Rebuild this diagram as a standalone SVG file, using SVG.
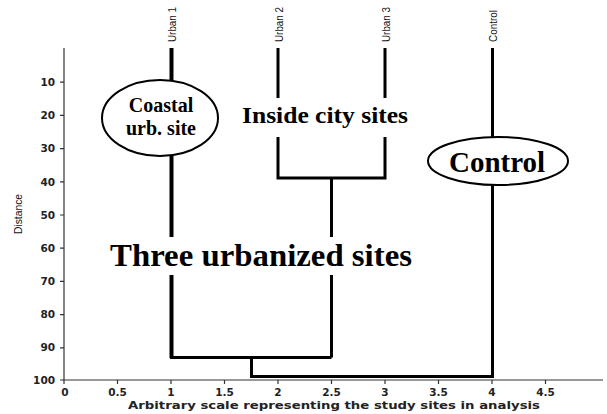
<svg xmlns="http://www.w3.org/2000/svg" width="607" height="414" viewBox="0 0 607 414">
<style>
.ax{stroke:#333;stroke-width:1.2;fill:none}
.tk{font-family:"DejaVu Sans",Verdana,sans-serif;font-weight:bold;font-size:10.5px;fill:#222}
.lab{font-family:"Liberation Sans",Arial,sans-serif;font-size:10.5px;fill:#111}
.br{stroke:#000;stroke-width:3;fill:none;stroke-linecap:butt}
.big{font-family:"Liberation Serif","Times New Roman",serif;font-weight:bold;fill:#000}
.ell{fill:#fff;stroke:#000;stroke-width:2}
</style>
<rect width="607" height="414" fill="#fff"/>
<g id="axes">
<path class="ax" d="M64,48 V380 H603"/>
<path class="ax" d="M60,82.2H64M60,115.4H64M60,148.6H64M60,181.8H64M60,215H64M60,248.2H64M60,281.4H64M60,314.6H64M60,347.8H64M60,380H64"/>
<path class="ax" d="M64,380v4M117.5,380v4M171,380v4M224.5,380v4M278,380v4M331.5,380v4M385,380v4M438.5,380v4M492,380v4M545.5,380v4"/>
<g class="tk" text-anchor="end">
<text x="55" y="86">10</text><text x="55" y="119">20</text><text x="55" y="152">30</text><text x="55" y="186">40</text><text x="55" y="219">50</text><text x="55" y="252">60</text><text x="55" y="285">70</text><text x="55" y="318">80</text><text x="55" y="351">90</text><text x="55" y="384">100</text>
</g>
<g class="tk" text-anchor="middle">
<text x="65" y="396">0</text><text x="117.5" y="396">0.5</text><text x="171" y="396">1</text><text x="224.5" y="396">1.5</text><text x="278" y="396">2</text><text x="331.5" y="396">2.5</text><text x="385" y="396">3</text><text x="438.5" y="396">3.5</text><text x="492" y="396">4</text><text x="545.5" y="396">4.5</text>
</g>
<text class="tk" x="128" y="409" textLength="412" lengthAdjust="spacingAndGlyphs">Arbitrary scale representing the study sites in analysis</text>
<text class="lab" transform="translate(22,214) rotate(-90)" text-anchor="middle" textLength="40" lengthAdjust="spacingAndGlyphs">Distance</text>
</g>
<g id="leaf-labels">
<text class="lab" transform="translate(175.5,42) rotate(-90)" textLength="35" lengthAdjust="spacingAndGlyphs">Urban 1</text>
<text class="lab" transform="translate(282.5,42) rotate(-90)" textLength="35" lengthAdjust="spacingAndGlyphs">Urban 2</text>
<text class="lab" transform="translate(389.5,42) rotate(-90)" textLength="35" lengthAdjust="spacingAndGlyphs">Urban 3</text>
<text class="lab" transform="translate(496.5,42) rotate(-90)" textLength="32" lengthAdjust="spacingAndGlyphs">Control</text>
</g>
<g id="connectors">
<path class="br" style="stroke-width:4" d="M171.5,48V80M171.5,156V237M171.5,275V358"/>
<path class="br" d="M278,48V98M385,48V98M278,137V178H385V137M331.5,178V237M331.5,275V357.5M170,357.5H331.5M251.5,357.5V376.5H492.5M492.5,48V137M492.5,185V378"/>
</g>
<g id="coastal">
<ellipse class="ell" cx="160" cy="118" rx="58" ry="38"/>
<text class="big" x="161" y="112" font-size="20" text-anchor="middle">Coastal</text>
<text class="big" x="161" y="135" font-size="20" text-anchor="middle">urb. site</text>
</g>
<g id="inside-city">
<text class="big" x="325" y="123" font-size="24" text-anchor="middle" textLength="166" lengthAdjust="spacingAndGlyphs">Inside city sites</text>
</g>
<g id="three-urbanized">
<text class="big" x="261" y="266" font-size="32" text-anchor="middle" textLength="302" lengthAdjust="spacingAndGlyphs">Three urbanized sites</text>
</g>
<g id="control">
<ellipse class="ell" cx="498" cy="161" rx="70" ry="24"/>
<text class="big" x="497" y="172" font-size="29" text-anchor="middle" textLength="96" lengthAdjust="spacingAndGlyphs">Control</text>
</g>
</svg>
